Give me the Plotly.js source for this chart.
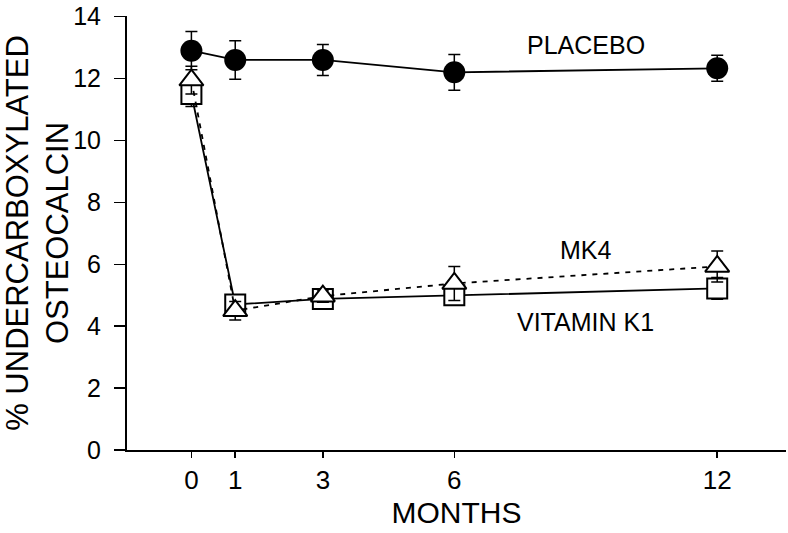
<!DOCTYPE html>
<html>
<head>
<meta charset="utf-8">
<script src="https://cdn.plot.ly/plotly-3.0.1.min.js"></script>
<style>html,body{margin:0;padding:0;background:#fff;}#chart{width:788px;height:533px;}</style>
</head>
<body>
<div id="chart"></div>
<script>
// Data
const months = [0, 1, 3, 6, 12];
const tickLabels = ['0', '1', '3', '6', '12'];

const placebo = [12.9, 12.6, 12.6, 12.2, 12.33];
const placeboErr = [0.62, 0.62, 0.5, 0.58, 0.42];

const mk4 = [11.95, 4.5, 4.97, 5.38, 5.93];
const mk4Err = [0.45, 0.3, 0.2, 0.55, 0.5];

const vitK1 = [11.5, 4.7, 4.88, 5.0, 5.22];
const vitK1Err = [0.4, 0.3, 0.2, 0.3, 0.35];

const seriesLabels = ['PLACEBO', 'MK4', 'VITAMIN K1'];
const labelPos = [[9.0, 13.07], [9.0, 6.45], [9.0, 4.15]];

const FONT = 'Liberation Sans, Arial, Helvetica, sans-serif';

function errBar(arr) {
  return {type: 'data', array: arr, visible: true, color: '#000', thickness: 1.5, width: 6};
}

const traces = [
  {
    x: months, y: vitK1, name: 'VITAMIN K1', mode: 'lines+markers',
    line: {color: '#000', width: 1.8, dash: 'solid'},
    marker: {symbol: 'square', size: 20, color: '#fff', line: {color: '#000', width: 2}},
    error_y: errBar(vitK1Err)
  },
  {
    x: months, y: mk4, name: 'MK4', mode: 'lines+markers',
    line: {color: '#000', width: 1.8, dash: '5px,6px'},
    marker: {symbol: 'triangle-up', size: 21, color: '#fff', line: {color: '#000', width: 2}},
    error_y: errBar(mk4Err)
  },
  {
    x: months, y: placebo, name: 'PLACEBO', mode: 'lines+markers',
    line: {color: '#000', width: 1.8},
    marker: {symbol: 'circle', size: 22, color: '#000', line: {color: '#000', width: 0}},
    error_y: errBar(placeboErr)
  }
];

const annotations = seriesLabels.map((t, i) => ({
  x: labelPos[i][0], y: labelPos[i][1], xref: 'x', yref: 'y', text: t,
  showarrow: false, xanchor: 'center', yanchor: 'middle',
  font: {family: FONT, size: 25, color: '#000'}
}));

const layout = {
  width: 788, height: 533,
  margin: {l: 127, r: 2, t: 16, b: 83, pad: 0},
  paper_bgcolor: '#fff', plot_bgcolor: '#fff',
  showlegend: false,
  font: {family: FONT, color: '#000'},
  xaxis: {
    range: [-1.47, 13.57], tickvals: months, ticktext: tickLabels,
    showgrid: false, zeroline: false, showline: true, linecolor: '#000', linewidth: 2,
    ticks: 'outside', ticklen: 6, tickwidth: 1.5, tickcolor: '#000',
    tickfont: {family: FONT, size: 26, color: '#000'},
    title: {text: 'MONTHS', font: {family: FONT, size: 30, color: '#000'}, standoff: 8}
  },
  yaxis: {
    range: [0, 14.02], tickvals: [0, 2, 4, 6, 8, 10, 12, 14],
    showgrid: false, zeroline: false, showline: true, linecolor: '#000', linewidth: 2,
    ticks: 'outside', ticklen: 11, tickwidth: 1.5, tickcolor: '#000',
    tickfont: {family: FONT, size: 25, color: '#000'},
    ticklabelstandoff: 8,
    title: {text: '% UNDERCARBOXYLATED<br>OSTEOCALCIN', font: {family: FONT, size: 31, color: '#000'}, standoff: 6}
  },
  annotations: annotations
};

Plotly.newPlot('chart', traces, layout, {displayModeBar: false, staticPlot: true});
</script>
</body>
</html>
